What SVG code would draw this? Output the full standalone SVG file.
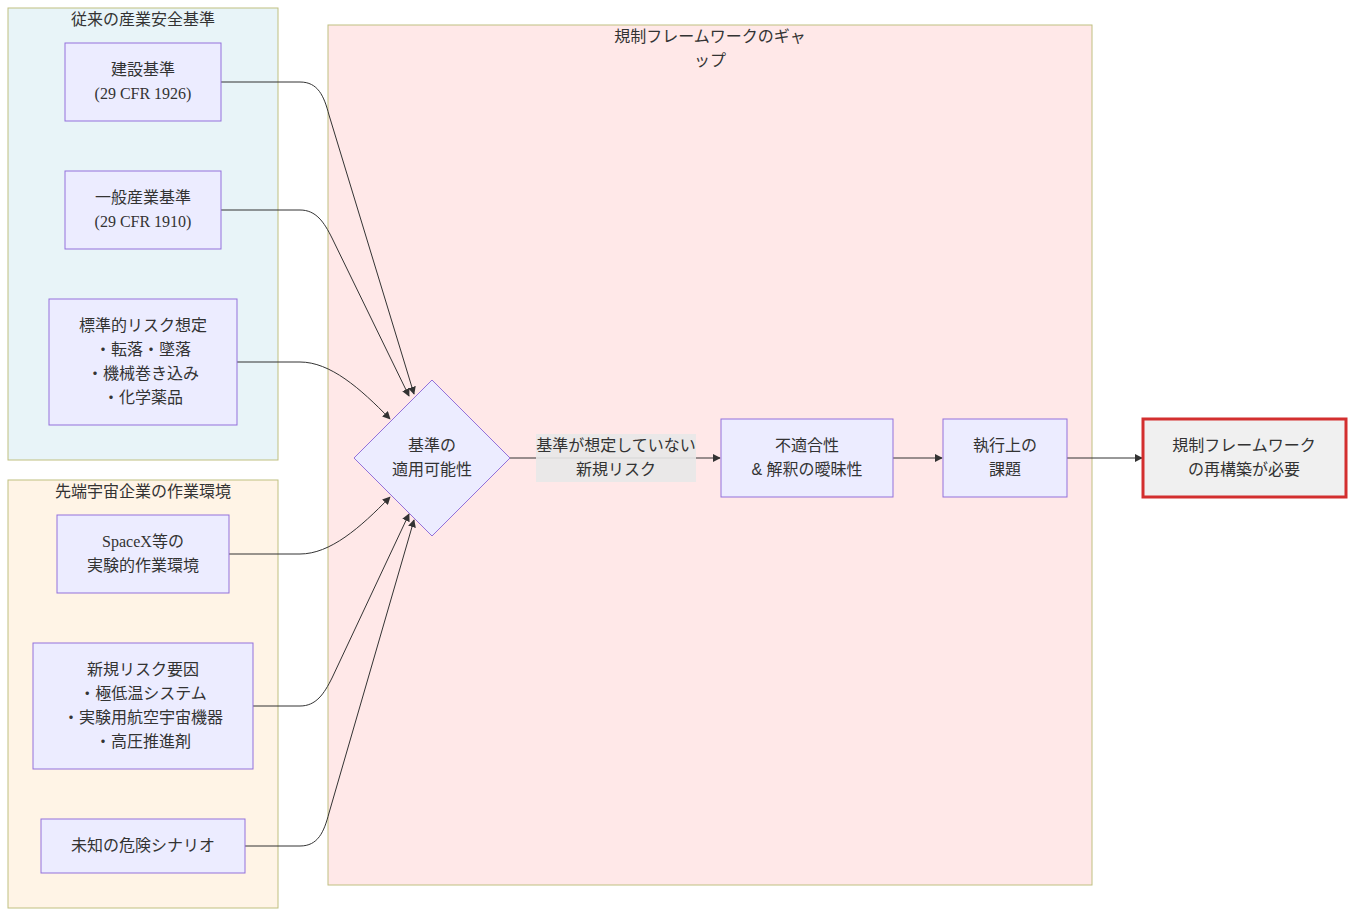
<svg xmlns="http://www.w3.org/2000/svg" width="1354" height="916" viewBox="0 0 1354 916">
<style>
text{font-family:"Liberation Serif","Noto Sans CJK JP",serif;font-size:16px;fill:#333;text-anchor:middle}
.t{font-family:"Liberation Sans","Noto Sans CJK JP",sans-serif}
.n{fill:#ececff;stroke:#9370db;stroke-width:1}
.e{fill:none;stroke:#333;stroke-width:1;marker-end:url(#a)}
.c{stroke:#c0c080;stroke-width:1}
</style>
<defs><marker id="a" viewBox="0 0 10 10" refX="9" refY="5" markerWidth="8" markerHeight="8" orient="auto"><path d="M0,0L10,5L0,10z" fill="#333"/></marker></defs>
<rect x="0" y="0" width="1354" height="916" fill="#fff"/>
<g id="clusters">
<rect class="c" x="8" y="8" width="270" height="452" fill="#e8f4f8"/>
<text class="t" x="143" y="25">従来の産業安全基準</text>
<rect class="c" x="8" y="480" width="270" height="428" fill="#fff4e6"/>
<text class="t" x="143" y="497">先端宇宙企業の作業環境</text>
<rect class="c" x="328" y="25" width="764" height="860" fill="#ffe8e8"/>
<text class="t" x="710" y="42">規制フレームワークのギャ</text>
<text class="t" x="710" y="66">ップ</text>
</g>
<g id="connectors">
<path class="e" d="M221,82 L300,82 C318,82 324,96 329,115 L414,394"/>
<path class="e" d="M221,210 L300,210 C316,210 324,222 332,238 L409,396"/>
<path class="e" d="M237,362 L300,362 C330,362 360,388 390,419"/>
<path class="e" d="M229,554 L300,554 C330,554 360,528 390,497"/>
<path class="e" d="M253,706 L300,706 C316,706 324,694 332,678 L409,514"/>
<path class="e" d="M245,846 L300,846 C318,846 324,832 329,813 L414,520"/>
<path class="e" d="M510,458 L720,458"/>
<path class="e" d="M893,458 L942,458"/>
<path class="e" d="M1067,458 L1142,458"/>
<rect x="536" y="434" width="160" height="48" fill="#e8e8e8" opacity="0.9"/>
<text class="t" x="616" y="451">基準が想定していない</text>
<text class="t" x="616" y="475">新規リスク</text>
</g>
<g id="n1"><rect class="n" x="65" y="43" width="156" height="78"/><text class="t" x="143" y="75">建設基準</text><text x="143" y="99">(29 CFR 1926)</text></g>
<g id="n2"><rect class="n" x="65" y="171" width="156" height="78"/><text class="t" x="143" y="203">一般産業基準</text><text x="143" y="227">(29 CFR 1910)</text></g>
<g id="n3"><rect class="n" x="49" y="299" width="188" height="126"/><text class="t" x="143" y="331">標準的リスク想定</text><text class="t" x="143" y="355">・転落・墜落</text><text class="t" x="143" y="379">・機械巻き込み</text><text class="t" x="143" y="403">・化学薬品</text></g>
<g id="n4"><rect class="n" x="57" y="515" width="172" height="78"/><text x="143" y="547">SpaceX<tspan class="t">等の</tspan></text><text class="t" x="143" y="571">実験的作業環境</text></g>
<g id="n5"><rect class="n" x="33" y="643" width="220" height="126"/><text class="t" x="143" y="675">新規リスク要因</text><text class="t" x="143" y="699">・極低温システム</text><text class="t" x="143" y="723">・実験用航空宇宙機器</text><text class="t" x="143" y="747">・高圧推進剤</text></g>
<g id="n6"><rect class="n" x="41" y="819" width="204" height="54"/><text class="t" x="143" y="851">未知の危険シナリオ</text></g>
<g id="d"><polygon class="n" points="432,380 510,458 432,536 354,458"/><text class="t" x="432" y="451">基準の</text><text class="t" x="432" y="475">適用可能性</text></g>
<g id="n7"><rect class="n" x="721" y="419" width="172" height="78"/><text class="t" x="807" y="451">不適合性</text><text class="t" x="807" y="475">&amp; 解釈の曖昧性</text></g>
<g id="n8"><rect class="n" x="943" y="419" width="124" height="78"/><text class="t" x="1005" y="451">執行上の</text><text class="t" x="1005" y="475">課題</text></g>
<g id="n9"><rect x="1143" y="419" width="203" height="78" fill="#f0f0f0" stroke="#d32f2f" stroke-width="3"/><text class="t" x="1244" y="451">規制フレームワーク</text><text class="t" x="1244" y="475">の再構築が必要</text></g>
</svg>
